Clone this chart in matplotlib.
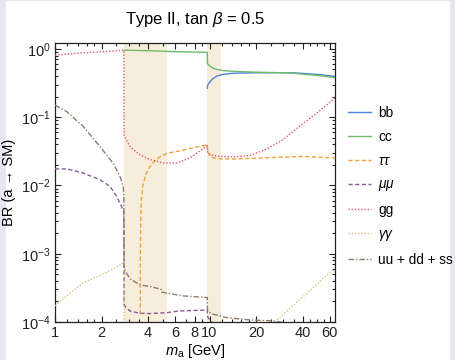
import numpy as np
import matplotlib
matplotlib.use("Agg")
import matplotlib.pyplot as plt
from matplotlib.patches import Rectangle

plt.rcParams['font.family'] = ['Liberation Sans', 'DejaVu Sans']
plt.rcParams['mathtext.fontset'] = 'custom'
plt.rcParams['mathtext.rm'] = 'Liberation Sans'
plt.rcParams['mathtext.it'] = 'Liberation Sans:italic'
plt.rcParams['mathtext.bf'] = 'Liberation Sans:bold'

# Branching ratios of the pseudoscalar a (Type II 2HDM, tan beta = 0.5)
m_bb = [9.68, 9.72, 9.85, 10.07, 10.58, 11.13, 12.29, 14.26, 20.2, 33.2, 38.6, 51.9, 64.9]
br_bb = [0.265, 0.29, 0.31, 0.33, 0.37, 0.40, 0.425, 0.44, 0.447, 0.448, 0.44, 0.42, 0.395]

m_cc = [2.80, 4.0, 6.0, 9.68, 9.70, 10.07, 10.58, 11.13, 12.29, 14.26, 20.2, 33.2, 38.6, 51.9, 64.9]
br_cc = [0.96, 0.94, 0.91, 0.89, 0.61, 0.56, 0.52, 0.50, 0.48, 0.47, 0.455, 0.445, 0.43, 0.405, 0.38]

m_tautau = [3.565, 3.57, 3.59, 3.62, 3.70, 3.85, 4.12, 4.5, 5.02, 5.5, 6.77, 8.0, 9.59, 9.68,
            9.72, 10.3, 11.13, 12.3, 14.3, 20.0, 30.0, 38.6, 50.0, 64.9]
br_tautau = [1.3e-4, 1.0e-3, 3.5e-3, 6.0e-3, 0.0097, 0.014, 0.019, 0.024, 0.028, 0.030, 0.033,
             0.036, 0.039, 0.0395, 0.031, 0.026, 0.0248, 0.0244, 0.0244, 0.025, 0.026, 0.0266,
             0.026, 0.0252]

m_mumu = [1.0, 1.19, 1.525, 1.956, 2.27, 2.508, 2.70, 2.79, 2.80, 2.88, 3.06, 3.55, 4.12,
          5.28, 6.4, 9.59, 9.68, 9.70, 10.3, 11.0]
br_mumu = [0.0175, 0.0175, 0.0152, 0.0121, 0.0097, 0.0069, 0.0049, 0.0040, 1.8e-4, 1.63e-4,
           1.45e-4, 1.34e-4, 1.33e-4, 1.37e-4, 1.45e-4, 1.5e-4, 1.51e-4, 1.2e-4, 1.0e-4, 0.93e-4]

m_gg = [1.0, 1.525, 1.956, 2.5, 2.79, 2.80, 2.84, 3.06, 3.55, 4.12, 5.02, 6.13, 7.47, 9.59, 9.68,
        9.72, 10.07, 11.7, 14.3, 18.3, 20.2, 23.4, 30.0, 38.6, 49.3, 64.9]
br_gg = [0.81, 0.875, 0.905, 0.94, 0.96, 0.055, 0.050, 0.037, 0.028, 0.024, 0.0213, 0.0213,
         0.0252, 0.0377, 0.038, 0.031, 0.028, 0.0267, 0.0262, 0.0275, 0.030, 0.034, 0.047,
         0.075, 0.114, 0.19]

m_gamgam = [1.0, 1.19, 1.525, 1.956, 2.508, 2.79, 2.80, np.nan, 26.5, 40.0, 64.9]
br_gamgam = [1.72e-4, 2.4e-4, 3.77e-4, 4.8e-4, 6.4e-4, 7.4e-4, 5e-5, np.nan, 1.0e-4, 2.3e-4, 6.25e-4]

m_uds = [1.0, 1.19, 1.525, 1.956, 2.384, 2.635, 2.767, 2.79, 2.80, 2.84, 3.06, 3.55, 4.12, 4.78,
         4.88, 4.90, 6.13, 6.77, 9.59, 9.68, 9.70, 10.07, 10.6, 12.9, 18.3, 25.8, 30.0]
br_uds = [0.15, 0.121, 0.073, 0.037, 0.021, 0.0135, 0.0097, 0.007, 6.5e-4, 5.6e-4, 4.3e-4,
          3.5e-4, 3.3e-4, 3.05e-4, 3.0e-4, 2.74e-4, 2.5e-4, 2.41e-4, 2.28e-4, 2.27e-4, 1.5e-4,
          1.38e-4, 1.30e-4, 1.16e-4, 1.07e-4, 1.04e-4, 0.98e-4]

# Shaded mass windows (GeV)
bands = [(2.80, 5.28), (9.68, 11.8)]

series = [
    (m_bb, br_bb, 'bb', '#4C84D6', '-'),
    (m_cc, br_cc, 'cc', '#6FBA6A', '-'),
    (m_tautau, br_tautau, r'$\tau\tau$', '#F2A234', (0, (3.0, 1.8))),
    (m_mumu, br_mumu, r'$\mu\mu$', '#8A5A96', (0, (3.0, 1.8))),
    (m_gg, br_gg, 'gg', '#E2566E', (0, (1.0, 1.3))),
    (m_gamgam, br_gamgam, r'$\gamma\gamma$', '#D9C27E', (0, (1.0, 1.3))),
    (m_uds, br_uds, 'uu + dd + ss', '#8C7C6C', (0, (4.0, 1.4, 1.0, 1.4))),
]

W, H = 456, 360
fig = plt.figure(figsize=(W / 100, H / 100), dpi=100)
fig.patch.set_facecolor('#E7E7F2')
fig.patches.append(Rectangle((6 / W, 0), 444 / W, 359 / H, transform=fig.transFigure,
                             facecolor='white', edgecolor='none', zorder=-10))

ax = fig.add_axes([55 / W, 1 - 322 / H, 280 / W, 279 / H])
ax.set_xscale('log')
ax.set_yscale('log')
ax.set_xlim(1, 64.9)
ax.set_ylim(1e-4, 1.22)

for lo, hi in bands:
    ax.axvspan(lo, hi, facecolor='#F6EDDA', edgecolor='none', zorder=0)

handles = []
for m, br, label, color, ls in series:
    h, = ax.plot(m, br, color=color, ls=ls, lw=1.0, label=label, zorder=3)
    handles.append(h)

ax.set_xticks([1, 2, 4, 6, 8, 10, 20, 40, 60])
ax.set_xticklabels(['1', '2', '4', '6', '8', '10', '20', '40', '60'])
ax.set_xticks([1.2, 1.4, 1.6, 1.8, 2.5, 3, 3.5, 5, 7, 9, 12, 14, 16, 18, 25, 30, 35, 45, 50, 55],
              minor=True)
ax.xaxis.set_minor_formatter(matplotlib.ticker.NullFormatter())
ax.set_yticks([1e-4, 1e-3, 1e-2, 1e-1, 1])
ax.yaxis.set_minor_locator(matplotlib.ticker.LogLocator(base=10, subs=np.arange(2, 10), numticks=20))
ax.yaxis.set_minor_formatter(matplotlib.ticker.NullFormatter())

ax.tick_params(which='both', direction='in', top=True, right=True, labelsize=10.5, width=0.8,
               colors='#222222', pad=3)
ax.tick_params(which='major', length=4.5)
ax.tick_params(which='minor', length=2.5)
for s in ax.spines.values():
    s.set_linewidth(0.9)
    s.set_color('#222222')

ax.set_xlabel(r'$m_{\rm a}$ [GeV]', fontsize=10.5, labelpad=1)
ax.set_ylabel('BR (a \u2192 SM)', fontsize=10.5, labelpad=4)
ax.set_title(r'Type II, tan $\beta$ = 0.5', fontsize=12, pad=14)

fig.legend(handles=handles, loc='upper left', bbox_to_anchor=(348 / W, 1 - 106 / H),
           frameon=False, fontsize=9.8, handlelength=1.7, handletextpad=0.5,
           labelspacing=0.72, borderpad=0, borderaxespad=0)

fig.savefig('out.png', dpi=100)
